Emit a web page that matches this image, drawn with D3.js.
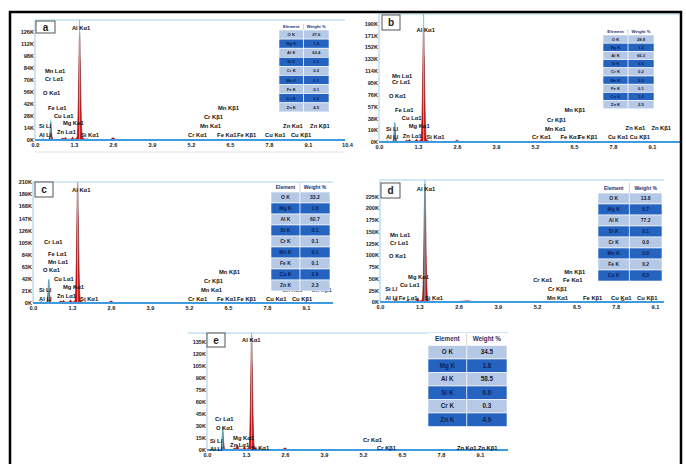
<!DOCTYPE html>
<html>
<head>
<meta charset="utf-8">
<script src="https://cdn.jsdelivr.net/npm/d3@7"></script>
<style>
  body { margin: 0; background: #fff; }
  svg text { font-family: "Liberation Sans", Arial, sans-serif; font-weight: bold; }
</style>
</head>
<body>
<svg id="fig" width="686" height="464"></svg>
<script>
// ---- data ----
const xTicksLong = [0, 1.3, 2.6, 3.9, 5.2, 6.5, 7.8, 9.1, 10.4];
const xTicksShort = [0, 1.3, 2.6, 3.9, 5.2, 6.5, 7.8, 9.1];

const yTicksA = [0, 14000, 28000, 42000, 56000, 70000, 84000, 98000, 112000, 126000];
const yTicksB = [0, 19000, 38000, 57000, 76000, 95000, 114000, 133000, 152000, 171000, 190000];
const yTicksC = [0, 21000, 42000, 63000, 84000, 105000, 126000, 147000, 168000, 189000, 210000];
const yTicksD = [0, 25000, 50000, 75000, 100000, 125000, 150000, 175000, 200000, 225000];
const yTicksE = [0, 15000, 30000, 45000, 60000, 75000, 90000, 105000, 120000, 135000];

const elemsABC = ["O K", "Mg K", "Al K", "Si K", "Cr K", "Mn K", "Fe K", "Cu K", "Zn K"];
const elemsD = ["O K", "Mg K", "Al K", "Si K", "Cr K", "Mn K", "Fe K", "Cu K"];
const elemsE = ["O K", "Mg K", "Al K", "Si K", "Cr K", "Zn K"];
const wtA = [27.6, 1.8, 63.4, 0.1, 0.2, 0.1, 0.1, 2.2, 4.5];
const wtB = [28.8, 1.2, 66.3, 0.0, 0.2, 0.0, 0.1, 1.0, 2.5];
const wtC = [33.2, 1.6, 60.7, 0.1, 0.1, 0.1, 0.1, 2.0, 2.3];
const wtD = [13.8, 0.7, 77.2, 0.1, 0.0, 0.0, 0.2, 8.0];
const wtE = [34.5, 1.8, 58.5, 0.0, 0.3, 4.9];

// spectra: [keV, counts]
const specA = [[0,0],[0.22,0],[0.27,1500],[0.32,0],[0.46,500],[0.5,9000],[0.525,21000],[0.55,9000],[0.6,600],[0.85,700],[0.93,2200],[0.97,1200],[1.01,3000],[1.07,900],[1.2,1000],[1.25,3200],[1.3,1000],[1.4,3000],[1.44,38000],[1.465,92000],[1.487,125000],[1.51,92000],[1.535,38000],[1.58,3000],[1.7,800],[1.74,1300],[1.8,400],[2.5,400],[2.6,2500],[2.7,400],[3.5,200],[10.4,100]];
const specB = [[0,0],[0.22,0],[0.27,2000],[0.32,0],[0.46,600],[0.5,13000],[0.525,30000],[0.55,13000],[0.6,800],[0.85,900],[0.93,3000],[0.97,1600],[1.01,4000],[1.07,1200],[1.2,1300],[1.25,4500],[1.3,1300],[1.4,4000],[1.44,55000],[1.465,135000],[1.487,184000],[1.51,135000],[1.535,55000],[1.58,4000],[1.7,1000],[1.74,1800],[1.8,500],[2.5,500],[2.6,3000],[2.7,500],[10.1,100]];
const specC = [[0,0],[0.22,0],[0.27,2500],[0.32,0],[0.46,800],[0.5,18000],[0.525,40000],[0.55,18000],[0.6,1000],[0.85,1000],[0.93,3500],[0.97,2000],[1.01,4500],[1.07,1500],[1.2,1500],[1.25,5000],[1.3,1500],[1.4,4500],[1.44,62000],[1.465,152000],[1.487,208000],[1.51,152000],[1.535,62000],[1.58,4500],[1.7,1000],[1.74,2000],[1.8,600],[2.5,600],[2.6,3500],[2.7,600],[10.4,100]];
const specD = [[0,0],[0.22,0],[0.27,2000],[0.32,0],[0.46,500],[0.5,5000],[0.525,10000],[0.55,5000],[0.6,600],[0.85,800],[0.93,4000],[0.98,1500],[1.2,2000],[1.25,9000],[1.3,2000],[1.4,5500],[1.44,75000],[1.465,185000],[1.487,252000],[1.51,185000],[1.535,75000],[1.58,5500],[1.7,1000],[1.74,2000],[1.8,600],[2.5,600],[2.9,2500],[3.1,600],[7.9,300],[8.04,3000],[8.15,300],[9.5,100]];
const specE = [[0,0],[0.22,0],[0.27,1200],[0.32,0],[0.46,500],[0.5,12000],[0.525,27000],[0.55,12000],[0.6,600],[0.85,700],[0.93,2500],[0.97,1500],[1.01,6000],[1.07,1000],[1.2,1000],[1.25,4000],[1.3,1000],[1.4,3500],[1.44,43000],[1.465,105000],[1.487,143000],[1.51,105000],[1.535,43000],[1.58,3500],[1.7,800],[1.74,1500],[1.8,400],[2.5,400],[2.6,2500],[2.7,400],[10,100]];

// cyan line markers [keV, top count]
const markA = [[0.525, 24000], [1.487, 140000]];
const markB = [[0.525, 32000], [1.487, 205000]];
const markC = [[0.525, 42000], [1.487, 210000]];
const markD = [[0.525, 12000], [1.487, 260000]];
const markE = [[0.525, 29000], [1.487, 146000]];

// peak labels [text, keV, counts]
const labelsA = [["Al Kα1",1.23,131000],["Mn Lα1",0.33,80000],["Cr Lα1",0.33,71000],["O  Kα1",0.27,55000],["Fe Lα1",0.43,37000],["Cu Lα1",0.63,28000],["Si Ll",0.13,16300],["Mg Kα1",0.93,19800],["Zn Lα1",0.73,9300],["Al Ll",0.13,5800],["Si Kα1",1.53,5800],["Cr Kα1",5.1,5800],["Fe Kα1",6.07,5800],["Fe Kβ1",6.73,5800],["Cu Kα1",7.67,5800],["Cu Kβ1",8.53,5800],["Mn Kα1",5.5,16700],["Cr Kβ1",5.63,26800],["Mn Kβ1",6.1,37300],["Zn Kα1",8.27,16700],["Zn Kβ1",9.17,16700]];
const labelsB = [["Al Kα1",1.25,179000],["Mn Lα1",0.43,106000],["Cr Lα1",0.43,96000],["O  Kα1",0.33,74000],["Fe Lα1",0.53,51000],["Cu Lα1",0.76,38000],["Si Ll",0.23,21000],["Mg Kα1",0.99,26000],["Zn Lα1",0.79,10000],["Al Ll",0.23,8000],["Si Kα1",1.58,8000],["Cr Kα1",5.1,8000],["Fe Kα1",6.05,8000],["Fe Kβ1",6.64,8000],["Cu Kα1",7.63,8000],["Cu Kβ1",8.36,8000],["Mn Kα1",5.53,21000],["Cr Kβ1",5.6,35000],["Mn Kβ1",6.18,51000],["Zn Kα1",8.22,22000],["Zn Kβ1",9.08,22000]];
const labelsC = [["Al Kα1",1.3,196000],["Cr Lα1",0.37,106000],["Fe Lα1",0.5,85000],["Mn Lα1",0.5,71000],["O  Kα1",0.33,57000],["Cu Lα1",0.7,42000],["Si Ll",0.2,23000],["Mg Kα1",1.0,28000],["Zn Lα1",0.8,12000],["Al Ll",0.2,7000],["Si Kα1",1.57,7000],["Cr Kα1",5.17,7000],["Fe Kα1",6.13,7000],["Fe Kβ1",6.8,7000],["Cu Kα1",7.77,7000],["Cu Kβ1",8.63,7000],["Mn Kα1",5.6,23000],["Cr Kβ1",5.7,38000],["Mn Kβ1",6.2,54000],["Zn Kα1",8.33,23000],["Zn Kβ1",9.3,23000]];
const labelsD = [["Al Kα1",1.22,241000],["Mn Lα1",0.33,143000],["Cr Lα1",0.33,126000],["O  Kα1",0.3,98000],["Mg Kα1",0.93,53000],["Cu Lα1",0.66,36000],["Si Ll",0.17,28000],["Al Ll",0.17,8500],["Fe Lα1",0.62,8500],["Si Kα1",1.49,8500],["Cr Kα1",5.07,47000],["Fe Kα1",6.06,47000],["Mn Kβ1",6.1,64000],["Cr Kβ1",5.56,28000],["Mn Kα1",5.53,8500],["Fe Kβ1",6.72,8500],["Cu Kα1",7.65,8500],["Cu Kβ1",8.51,8500]];
const labelsE = [["Al Kα1",1.17,137000],["Cr Lα1",0.27,39000],["O  Kα1",0.3,27000],["Si Ll",0.1,11000],["Mg Kα1",0.87,15000],["Zn Lα1",0.77,6000],["Al Ll",0.1,1500],["Si Kα1",1.47,2500],["Cr Kα1",5.2,12500],["Cr Kβ1",5.67,2500],["Zn Kα1",8.33,2500],["Zn Kβ1",9.03,2500]];

// ---- layout ----
const panels = [
  { id: "a", spec: specA, marks: markA, labels: labelsA, elems: elemsABC, wt: wtA, yTicks: yTicksA, xTicks: xTicksLong,
    xDom: [0, 10.4], xR: [35, 347], yDom: [0, 140000], yR: [140, 20], frame: [35, 345],
    box: [36, 21, 19, 12], table: { x: 279, y: 24, w: 50, hh: 6, rh: 9.1, fs: 4.2 } },
  { id: "b", spec: specB, marks: markB, labels: labelsB, elems: elemsABC, wt: wtB, yTicks: yTicksB, xTicks: xTicksShort,
    xDom: [0, 10], xR: [379, 679], yDom: [0, 205000], yR: [142, 14], frame: [379, 680],
    box: [382, 15, 18, 15], table: { x: 603, y: 29, w: 51, hh: 6, rh: 8.2, fs: 4.2 } },
  { id: "c", spec: specC, marks: markC, labels: labelsC, elems: elemsABC, wt: wtC, yTicks: yTicksC, xTicks: xTicksShort,
    xDom: [0, 10.4], xR: [33, 345], yDom: [0, 210000], yR: [303, 182], frame: [33, 333],
    box: [35, 182, 18, 15], table: { x: 271, y: 183, w: 59, hh: 9, rh: 11, fs: 5 } },
  { id: "d", spec: specD, marks: markD, labels: labelsD, elems: elemsD, wt: wtD, yTicks: yTicksD, xTicks: xTicksShort,
    xDom: [0, 9.5], xR: [380, 667], yDom: [0, 260000], yR: [302, 180], frame: [380, 664],
    box: [381, 183, 19, 15], table: { x: 598, y: 183, w: 64, hh: 10, rh: 11, fs: 5 } },
  { id: "e", spec: specE, marks: markE, labels: labelsE, elems: elemsE, wt: wtE, yTicks: yTicksE, xTicks: xTicksShort,
    xDom: [0, 10], xR: [207, 507], yDom: [0, 146000], yR: [450, 333], frame: [188, 508],
    box: [207, 333, 18, 14], table: { x: 428, y: 333, w: 79, hh: 12.5, rh: 13.5, fs: 6.3 } }
];

const svg = d3.select("#fig");
svg.append("rect").attr("width", 686).attr("height", 464).attr("fill", "#fff");

panels.forEach(p => {
  const x = d3.scaleLinear().domain(p.xDom).range(p.xR);
  const y = d3.scaleLinear().domain(p.yDom).range(p.yR);
  const g = svg.append("g");
  const top = p.yR[1], base = p.yR[0];

  g.append("clipPath").attr("id", "clip-" + p.id)
    .append("rect").attr("x", p.xR[0]).attr("y", top - 2)
    .attr("width", p.frame[1] - p.xR[0]).attr("height", base - top + 4);

  // frame lines
  g.append("line").attr("x1", p.frame[0]).attr("x2", p.frame[1]).attr("y1", top).attr("y2", top)
    .attr("stroke", "#a8d2ea").attr("stroke-width", 1.2);
  g.append("line").attr("x1", p.xR[0]).attr("x2", p.xR[0]).attr("y1", top).attr("y2", base)
    .attr("stroke", "#9ccbe6").attr("stroke-width", 1);

  const plot = g.append("g").attr("clip-path", "url(#clip-" + p.id + ")");

  const area = d3.area()
    .x(d => x(d[0]))
    .y0(y(0))
    .y1(d => y(d[1]))
    .curve(d3.curveMonotoneX);
  plot.append("path").datum(p.spec).attr("d", area)
    .attr("fill", "#d30f0f").attr("stroke", "#7a0000").attr("stroke-width", 0.6);

  plot.selectAll("line.mark").data(p.marks).enter().append("line")
    .attr("x1", d => x(d[0])).attr("x2", d => x(d[0]))
    .attr("y1", y(0)).attr("y2", d => y(d[1]))
    .attr("stroke", "#55d3e6").attr("stroke-width", 1);

  // blue baseline
  plot.append("line").attr("x1", p.xR[0]).attr("x2", p.frame[1]).attr("y1", y(0)).attr("y2", y(0))
    .attr("stroke", "#3f9be0").attr("stroke-width", 2);

  // axes
  const ya = g.append("g").attr("transform", "translate(" + p.xR[0] + ",0)")
    .call(d3.axisLeft(y).tickValues(p.yTicks).tickSize(0).tickPadding(1)
      .tickFormat(d => (d / 1000) + "K"));
  ya.select(".domain").remove();
  ya.attr("font-size", 5.6).attr("font-family", null).attr("color", "#222");

  const xa = g.append("g").attr("transform", "translate(0," + base + ")")
    .call(d3.axisBottom(x).tickValues(p.xTicks).tickSize(0).tickPadding(3)
      .tickFormat(d3.format(".1f")));
  xa.select(".domain").remove();
  xa.attr("font-size", 5.6).attr("font-family", null).attr("color", "#222");

  // peak labels
  g.selectAll("text.lbl").data(p.labels).enter().append("text")
    .attr("x", d => x(d[1])).attr("y", d => y(d[2]))
    .attr("dy", "0.35em").attr("font-size", 5.8).attr("fill", "#111")
    .text(d => d[0]);

  // letter box
  g.append("rect").attr("x", p.box[0]).attr("y", p.box[1]).attr("width", p.box[2]).attr("height", p.box[3])
    .attr("fill", "#fff").attr("stroke", "#555").attr("stroke-width", 1);
  g.append("text").attr("x", p.box[0] + p.box[2] / 2).attr("y", p.box[1] + p.box[3] / 2)
    .attr("dy", "0.35em").attr("text-anchor", "middle").attr("font-size", 10).attr("fill", "#222")
    .text(p.id);

  // weight table
  const t = p.table;
  const split = t.x + t.w * 0.49;
  const tg = g.append("g").attr("font-size", t.fs);
  tg.append("rect").attr("x", t.x).attr("y", t.y).attr("width", t.w).attr("height", t.hh).attr("fill", "#fff");
  tg.append("text").attr("x", (t.x + split) / 2).attr("y", t.y + t.hh / 2).attr("dy", "0.35em")
    .attr("text-anchor", "middle").attr("fill", "#1d2f6e").text("Element");
  tg.append("text").attr("x", (split + t.x + t.w) / 2).attr("y", t.y + t.hh / 2).attr("dy", "0.35em")
    .attr("text-anchor", "middle").attr("fill", "#1d2f6e").text("Weight %");
  const rows = tg.selectAll("g.row").data(p.elems).enter().append("g")
    .attr("transform", (d, i) => "translate(0," + (t.y + t.hh + i * t.rh) + ")");
  rows.append("rect").attr("x", t.x).attr("width", t.w).attr("height", t.rh)
    .attr("fill", (d, i) => i % 2 ? "#2463bf" : "#b5c9e6")
    .attr("stroke", "#fff").attr("stroke-width", 0.6);
  rows.append("text").attr("x", (t.x + split) / 2).attr("y", t.rh / 2).attr("dy", "0.35em")
    .attr("text-anchor", "middle").attr("fill", (d, i) => i % 2 ? "#0c1f55" : "#1a1a2e").text(d => d);
  rows.append("text").attr("x", (split + t.x + t.w) / 2).attr("y", t.rh / 2).attr("dy", "0.35em")
    .attr("text-anchor", "middle").attr("fill", (d, i) => i % 2 ? "#0c1f55" : "#1a1a2e")
    .text((d, i) => p.wt[i].toFixed(1));
  tg.append("line").attr("x1", split).attr("x2", split).attr("y1", t.y)
    .attr("y2", t.y + t.hh + p.elems.length * t.rh).attr("stroke", "#fff").attr("stroke-width", 0.8);
  tg.append("line").attr("x1", split).attr("x2", split).attr("y1", t.y).attr("y2", t.y + t.hh)
    .attr("stroke", "#bbb").attr("stroke-width", 0.6);
});

// faint separator under panel a ticks
svg.append("line").attr("x1", 35).attr("x2", 345).attr("y1", 152).attr("y2", 152)
  .attr("stroke", "#e2e2e2").attr("stroke-width", 1);

// outer black frame
svg.append("rect").attr("x", 10).attr("y", 12).attr("width", 671).attr("height", 470)
  .attr("fill", "none").attr("stroke", "#000").attr("stroke-width", 2.5);
</script>
</body>
</html>
